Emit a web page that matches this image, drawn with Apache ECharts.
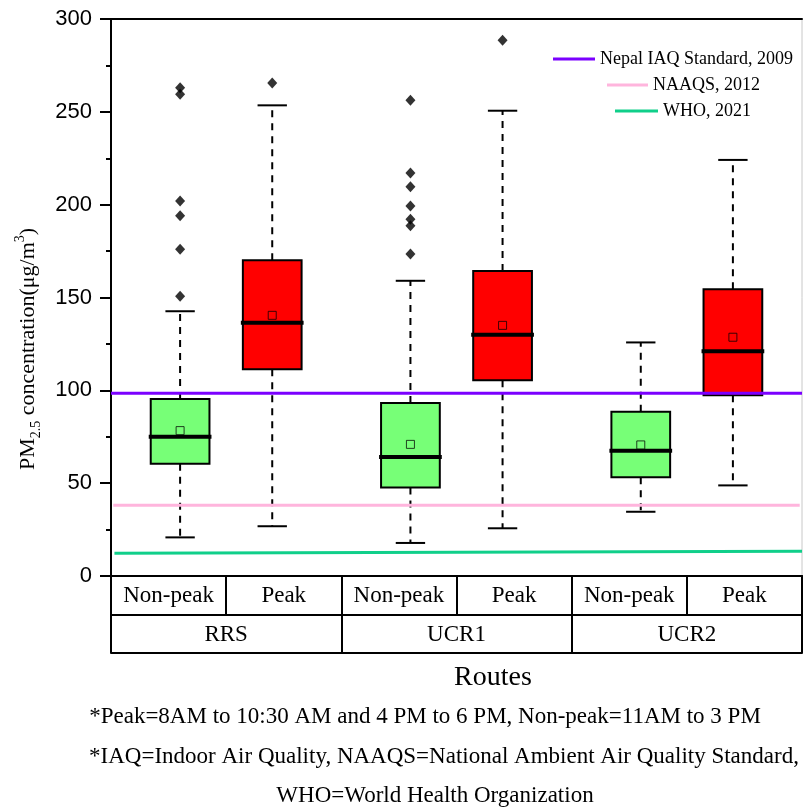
<!DOCTYPE html>
<html>
<head>
<meta charset="utf-8">
<title>PM2.5 by route</title>
<script src="https://cdn.jsdelivr.net/npm/echarts@6/dist/echarts.min.js"></script>
<style>
  html, body { margin: 0; padding: 0; background: #fff; }
  #chart { width: 803px; height: 809px; }
</style>
</head>
<body>
<div id="chart"></div>
<script>
  // routes and periods, one box per route x period, in this order
  const groups = ['RRS', 'UCR1', 'UCR2']
  const periods = ['Non-peak', 'Peak']
  const boxColors = ['#77ff77', '#ff0000']

  // box statistics (µg/m3)
  const lowWhisker = [20.8, 26.8, 17.8, 25.7, 34.6, 48.8]
  const q1 = [60.5, 111.3, 47.6, 105.4, 53.2, 97.3]
  const median = [75.0, 136.4, 64.1, 130.0, 67.5, 121.0]
  const q3 = [95.3, 170.0, 93.2, 164.3, 88.5, 154.4]
  const highWhisker = [142.6, 253.5, 159.0, 250.6, 125.8, 224.1]
  const mean = [78.3, 140.4, 70.9, 135.0, 70.6, 128.6]
  const outliers = [
    [263.0, 259.5, 202.0, 194.0, 176.0, 150.7],
    [265.5],
    [256.2, 217.1, 209.7, 199.3, 192.1, 188.7, 173.4],
    [288.5],
    [],
    [],
  ]

  // guideline values at the left and right end of the plot
  const nepalIAQ = [98.4, 98.4]
  const naaqs = [38.1, 38.1]
  const who = [12.2, 13.3]

  const yTicks = [0, 50, 100, 150, 200, 250, 300]

  const serif = '"Liberation Serif", "Times New Roman", serif'
  const sans = '"Liberation Sans", Arial, sans-serif'

  // x position on the hidden 0..6 value axis
  function boxX(i) {
    const g = Math.floor(i / periods.length)
    const p = i % periods.length
    return 2 * g + 1 + (p === 0 ? -0.4 : 0.4)
  }

  const boxData = lowWhisker.map((lo, i) => ({
    value: [boxX(i), lo, q1[i], median[i], q3[i], highWhisker[i], mean[i]],
    itemStyle: { color: boxColors[i % periods.length] },
  }))

  const outlierData = []
  outliers.forEach((list, i) => list.forEach((v) => outlierData.push([boxX(i), v])))

  function renderBox(params, api) {
    const x = api.value(0)
    const pLo = api.coord([x, api.value(1)])
    const pQ1 = api.coord([x, api.value(2)])
    const pMed = api.coord([x, api.value(3)])
    const pQ3 = api.coord([x, api.value(4)])
    const pHi = api.coord([x, api.value(5)])
    const pMean = api.coord([x, api.value(6)])
    const w = api.size([0.51, 0])[0]
    const cx = pMed[0]
    const fill = api.visual('color')
    const dash = { stroke: '#000', lineWidth: 2, lineDash: [7, 6] }
    const solid = { stroke: '#000', lineWidth: 2 }

    return {
      type: 'group',
      children: [
        { type: 'line', shape: { x1: cx, y1: pQ1[1], x2: cx, y2: pLo[1] }, style: dash },
        { type: 'line', shape: { x1: cx, y1: pQ3[1], x2: cx, y2: pHi[1] }, style: dash },
        { type: 'line', shape: { x1: cx - w / 4, y1: pLo[1], x2: cx + w / 4, y2: pLo[1] }, style: solid },
        { type: 'line', shape: { x1: cx - w / 4, y1: pHi[1], x2: cx + w / 4, y2: pHi[1] }, style: solid },
        {
          type: 'rect',
          shape: { x: cx - w / 2, y: pQ3[1], width: w, height: pQ1[1] - pQ3[1] },
          style: { fill: fill, stroke: '#000', lineWidth: 2 },
        },
        {
          type: 'line',
          shape: { x1: cx - w / 2 - 2, y1: pMed[1], x2: cx + w / 2 + 2, y2: pMed[1] },
          style: { stroke: '#000', lineWidth: 4 },
        },
        {
          type: 'rect',
          shape: { x: pMean[0] - 4, y: pMean[1] - 4, width: 8, height: 8 },
          style: { fill: fill, stroke: 'rgba(0,0,0,0.75)', lineWidth: 1 },
        },
      ],
    }
  }

  function guide(name, color, xs, ys) {
    return {
      name: name,
      type: 'line',
      color: color,
      symbol: 'none',
      silent: true,
      z: 5,
      lineStyle: { color: color, width: 3 },
      data: [[xs[0], ys[0]], [xs[1], ys[1]]],
    }
  }

  function legendAt(name, left, top, iconWidth) {
    return {
      data: [name],
      left: left,
      top: top,
      padding: 0,
      icon: 'rect',
      itemWidth: iconWidth,
      itemHeight: 3,
      textStyle: { fontFamily: serif, fontSize: 18, color: '#000' },
    }
  }

  const lineAxis = { lineStyle: { color: '#000', width: 2 } }

  const chart = echarts.init(document.getElementById('chart'))

  chart.setOption({
    animation: false,
    backgroundColor: '#fff',
    grid: {
      left: 111,
      right: 1,
      top: 19,
      bottom: 233,
      show: true,
      borderColor: '#c8c8c8',
      borderWidth: 1,
      outerBoundsMode: 'none',
    },
    legend: [
      legendAt('Nepal IAQ Standard, 2009', 553, 50, 42),
      legendAt('NAAQS, 2012', 607, 76, 41),
      legendAt('WHO, 2021', 615, 102, 43),
    ],
    xAxis: [
      {
        type: 'value',
        min: 0,
        max: 6,
        position: 'bottom',
        axisLine: lineAxis,
        axisTick: { show: false },
        axisLabel: { show: false },
        splitLine: { show: false },
      },
      {
        type: 'category',
        data: groups.flatMap(() => periods),
        position: 'bottom',
        boundaryGap: true,
        axisLine: lineAxis,
        axisTick: { show: true, interval: 0, length: 39, lineStyle: { color: '#000', width: 2 } },
        axisLabel: { interval: 0, margin: 8, fontFamily: serif, fontSize: 23, color: '#000' },
      },
      {
        type: 'category',
        data: groups,
        position: 'bottom',
        offset: 39,
        boundaryGap: true,
        axisLine: lineAxis,
        axisTick: { show: true, interval: 0, length: 38, lineStyle: { color: '#000', width: 2 } },
        axisLabel: { interval: 0, margin: 8, fontFamily: serif, fontSize: 23, color: '#000' },
      },
      {
        type: 'value',
        min: 0,
        max: 6,
        position: 'bottom',
        offset: 77,
        axisLine: lineAxis,
        axisTick: { show: false },
        axisLabel: { show: false },
        splitLine: { show: false },
      },
      {
        type: 'value',
        min: 0,
        max: 6,
        position: 'top',
        axisLine: lineAxis,
        axisTick: { show: false },
        axisLabel: { show: false },
        splitLine: { show: false },
      },
    ],
    yAxis: {
      type: 'value',
      min: yTicks[0],
      max: yTicks[yTicks.length - 1],
      interval: yTicks[1] - yTicks[0],
      axisLine: { show: true, lineStyle: { color: '#000', width: 2 } },
      axisTick: { show: true, length: 11, lineStyle: { color: '#000', width: 2 } },
      minorTick: { show: true, splitNumber: 2, length: 5, lineStyle: { color: '#000', width: 2 } },
      axisLabel: { margin: 19, fontFamily: sans, fontSize: 22, color: '#000' },
      splitLine: { show: false },
    },
    graphic: [
      {
        type: 'text',
        x: 28,
        y: 349,
        rotation: Math.PI / 2,
        style: {
          text: '{a|PM}{sub|2.5}{a| concentration(μg/m}{sup|3}{a|)}',
          align: 'center',
          verticalAlign: 'middle',
          fill: '#000',
          rich: {
            a: { fontFamily: serif, fontSize: 22, lineHeight: 30, fill: '#000' },
            sub: { fontFamily: serif, fontSize: 14, lineHeight: 14, verticalAlign: 'bottom', fill: '#000' },
            sup: { fontFamily: serif, fontSize: 14, lineHeight: 14, verticalAlign: 'top', fill: '#000' },
          },
        },
      },
      {
        type: 'text',
        x: 493,
        y: 678,
        style: { text: 'Routes', font: '28px ' + serif, fill: '#000', align: 'center', verticalAlign: 'middle' },
      },
      {
        type: 'text',
        x: 425,
        y: 717,
        style: {
          text: '*Peak=8AM to 10:30 AM and 4 PM to 6 PM, Non-peak=11AM to 3 PM',
          font: '23px ' + serif, fill: '#000', align: 'center', verticalAlign: 'middle',
        },
      },
      {
        type: 'text',
        x: 444,
        y: 757,
        style: {
          text: '*IAQ=Indoor Air Quality, NAAQS=National Ambient Air Quality Standard,',
          font: '23px ' + serif, fill: '#000', align: 'center', verticalAlign: 'middle',
        },
      },
      {
        type: 'text',
        x: 435,
        y: 796,
        style: {
          text: 'WHO=World Health Organization',
          font: '23px ' + serif, fill: '#000', align: 'center', verticalAlign: 'middle',
        },
      },
    ],
    series: [
      {
        name: 'boxes',
        type: 'custom',
        xAxisIndex: 0,
        renderItem: renderBox,
        encode: { x: 0, y: [1, 2, 3, 4, 5] },
        data: boxData,
        z: 3,
      },
      {
        name: 'outliers',
        type: 'scatter',
        xAxisIndex: 0,
        symbol: 'diamond',
        symbolSize: [10, 11],
        itemStyle: { color: '#000' },
        data: outlierData,
        z: 4,
      },
      guide('Nepal IAQ Standard, 2009', '#7b00ff', [0, 6], nepalIAQ),
      guide('NAAQS, 2012', '#ffb5dd', [0.02, 5.98], naaqs),
      guide('WHO, 2021', '#10cf8a', [0.03, 6], who),
    ],
  })
</script>
</body>
</html>
